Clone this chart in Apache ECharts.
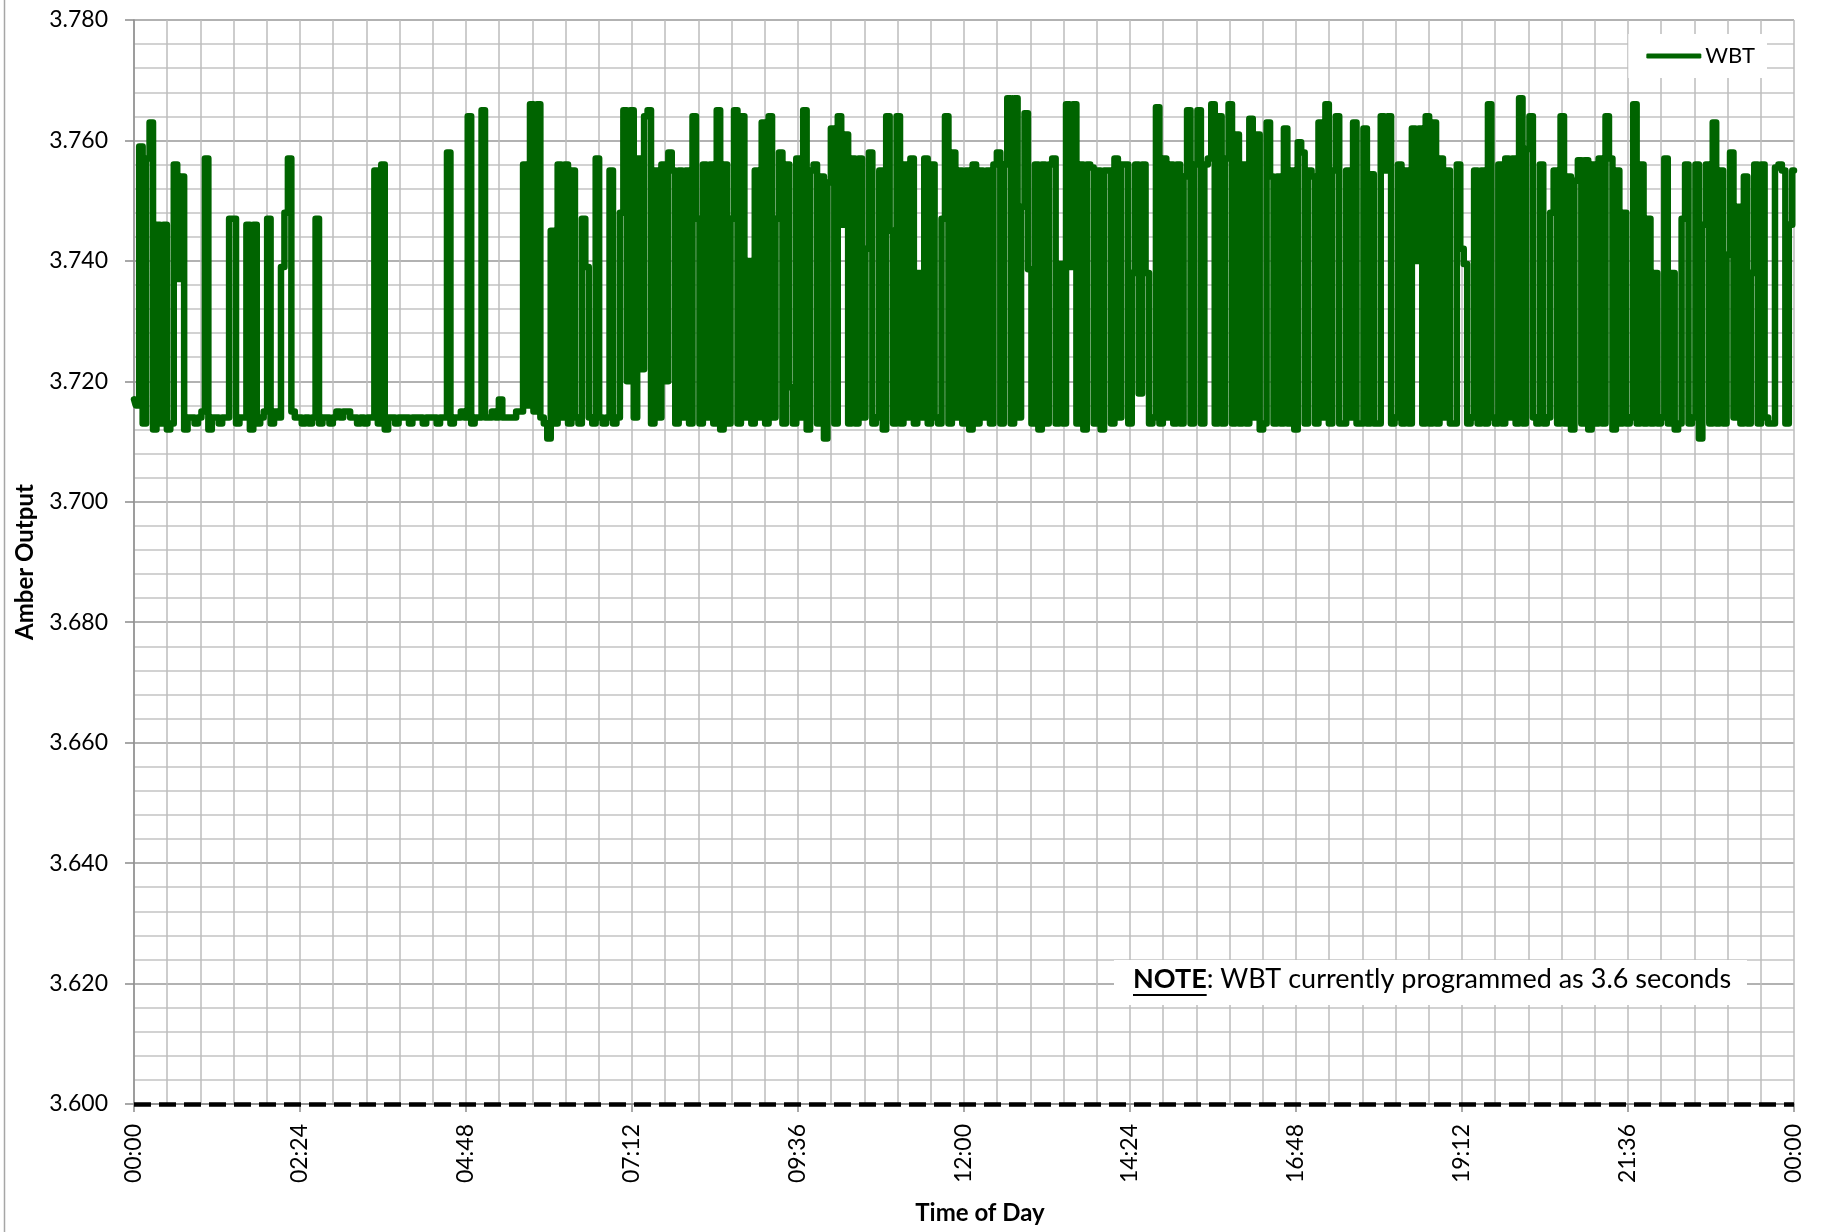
<!DOCTYPE html>
<html>
<head>
<meta charset="utf-8">
<title>WBT - Amber Output</title>
<script src="https://cdn.jsdelivr.net/npm/echarts@6/dist/echarts.min.js"></script>
<style>
    html, body { margin: 0; padding: 0; background: #fff; }
    #chart { width: 1824px; height: 1232px; }
</style>
</head>
<body>
<div id="chart"></div>
<script>
const SAMPLE_STEP_MIN = 3;
const wbtValues = [
    3.717, 3.716, 3.759, 3.713, 3.757, 3.763, 3.712, 3.746, 3.713, 3.746, 3.712, 3.713, 3.756, 3.737, 3.754, 3.712, 3.714, 3.714, 3.713, 3.714,
    3.715, 3.757, 3.712, 3.714, 3.714, 3.713, 3.714, 3.714, 3.747, 3.747, 3.713, 3.714, 3.714, 3.746, 3.712, 3.746, 3.713, 3.714, 3.715, 3.747,
    3.713, 3.715, 3.714, 3.739, 3.748, 3.757, 3.715, 3.714, 3.714, 3.713, 3.714, 3.713, 3.714, 3.747, 3.713, 3.714, 3.714, 3.713, 3.714, 3.715,
    3.714, 3.715, 3.715, 3.714, 3.714, 3.713, 3.714, 3.713, 3.714, 3.714, 3.755, 3.713, 3.756, 3.712, 3.714, 3.714, 3.713, 3.714, 3.714, 3.714,
    3.713, 3.714, 3.714, 3.714, 3.713, 3.714, 3.714, 3.714, 3.713, 3.714, 3.714, 3.758, 3.713, 3.714, 3.714, 3.715, 3.714, 3.764, 3.713, 3.714,
    3.714, 3.765, 3.714, 3.714, 3.715, 3.714, 3.717, 3.714, 3.714, 3.714, 3.714, 3.715, 3.715, 3.756, 3.716, 3.766, 3.715, 3.766, 3.714, 3.713,
    3.7105, 3.745, 3.713, 3.756, 3.714, 3.756, 3.713, 3.755, 3.714, 3.713, 3.747, 3.739, 3.714, 3.713, 3.757, 3.714, 3.713, 3.714, 3.755, 3.713,
    3.714, 3.748, 3.765, 3.720, 3.765, 3.714, 3.757, 3.722, 3.764, 3.765, 3.713, 3.755, 3.714, 3.756, 3.720, 3.758, 3.755, 3.713, 3.755, 3.714,
    3.755, 3.713, 3.764, 3.747, 3.713, 3.756, 3.714, 3.756, 3.713, 3.765, 3.712, 3.756, 3.713, 3.747, 3.765, 3.713, 3.764, 3.714, 3.740, 3.713,
    3.755, 3.714, 3.763, 3.713, 3.764, 3.714, 3.747, 3.758, 3.713, 3.756, 3.719, 3.713, 3.757, 3.714, 3.765, 3.712, 3.755, 3.756, 3.713, 3.754,
    3.7105, 3.753, 3.762, 3.713, 3.764, 3.746, 3.761, 3.713, 3.757, 3.713, 3.757, 3.714, 3.742, 3.758, 3.713, 3.714, 3.755, 3.712, 3.764, 3.745,
    3.713, 3.764, 3.713, 3.756, 3.714, 3.757, 3.713, 3.738, 3.714, 3.757, 3.713, 3.756, 3.714, 3.713, 3.747, 3.764, 3.713, 3.758, 3.714, 3.755,
    3.713, 3.755, 3.712, 3.756, 3.713, 3.755, 3.714, 3.755, 3.713, 3.756, 3.758, 3.713, 3.756, 3.767, 3.713, 3.767, 3.714, 3.749, 3.7645, 3.7386,
    3.713, 3.756, 3.712, 3.756, 3.713, 3.756, 3.757, 3.713, 3.7395, 3.713, 3.766, 3.739, 3.766, 3.713, 3.756, 3.712, 3.756, 3.7555, 3.713, 3.755,
    3.712, 3.755, 3.755, 3.713, 3.757, 3.714, 3.756, 3.756, 3.713, 3.738, 3.756, 3.718, 3.756, 3.738, 3.713, 3.714, 3.7655, 3.713, 3.757, 3.714,
    3.756, 3.713, 3.756, 3.713, 3.754, 3.765, 3.713, 3.756, 3.765, 3.713, 3.756, 3.757, 3.766, 3.713, 3.764, 3.713, 3.757, 3.766, 3.713, 3.761,
    3.713, 3.756, 3.713, 3.7636, 3.714, 3.761, 3.712, 3.713, 3.763, 3.754, 3.713, 3.754, 3.713, 3.762, 3.713, 3.755, 3.712, 3.7597, 3.758, 3.713,
    3.755, 3.754, 3.713, 3.763, 3.714, 3.766, 3.713, 3.755, 3.764, 3.713, 3.713, 3.755, 3.714, 3.763, 3.713, 3.713, 3.762, 3.713, 3.7544, 3.713,
    3.713, 3.764, 3.755, 3.764, 3.713, 3.714, 3.756, 3.713, 3.755, 3.713, 3.762, 3.740, 3.762, 3.713, 3.764, 3.713, 3.763, 3.713, 3.757, 3.714,
    3.755, 3.713, 3.713, 3.756, 3.742, 3.7395, 3.713, 3.714, 3.755, 3.713, 3.755, 3.713, 3.766, 3.714, 3.713, 3.756, 3.713, 3.757, 3.714, 3.757,
    3.713, 3.767, 3.713, 3.7586, 3.764, 3.714, 3.713, 3.756, 3.713, 3.714, 3.748, 3.755, 3.713, 3.764, 3.713, 3.754, 3.712, 3.7533, 3.7567, 3.713,
    3.7567, 3.712, 3.756, 3.713, 3.757, 3.713, 3.764, 3.757, 3.712, 3.755, 3.713, 3.748, 3.713, 3.714, 3.766, 3.713, 3.756, 3.713, 3.747, 3.713,
    3.738, 3.713, 3.714, 3.757, 3.713, 3.738, 3.712, 3.713, 3.747, 3.756, 3.713, 3.714, 3.756, 3.7105, 3.746, 3.756, 3.713, 3.763, 3.713, 3.755,
    3.713, 3.741, 3.758, 3.714, 3.749, 3.713, 3.754, 3.713, 3.738, 3.756, 3.713, 3.756, 3.714, 3.713, 3.713, 3.7555, 3.756, 3.755, 3.713, 3.746, 3.755
];

// Подписи оси X (шаг 2 ч 24 мин = 144 мин)
const X_TICK_STEP = 144;
const X_TICK_LABELS = ['00:00', '02:24', '04:48', '07:12', '09:36', '12:00', '14:24', '16:48', '19:12', '21:36', '00:00'];

// Ось Y
const Y_MIN = 3.6;
const Y_MAX = 3.78;
const Y_STEP = 0.02;

// Запрограммированное значение WBT (пунктир)
const WBT_THRESHOLD = 3.6;

const SERIES_NAME = 'WBT';
const NOTE_LABEL = 'NOTE';
const NOTE_TEXT = ': WBT currently programmed as 3.6 seconds';

const FONT = 'Lato, "Open Sans", sans-serif';
const GREEN = '#006400';
const NOTE_FONT_SIZE = 27;

// Ширина слова NOTE для подчёркивания
function measure(text, font) {
    const ctx = document.createElement('canvas').getContext('2d');
    ctx.font = font;
    return ctx.measureText(text).width;
}

const chart = echarts.init(document.getElementById('chart'));

const wbtData = wbtValues.map((v, i) => [i * SAMPLE_STEP_MIN, v]);
const noteWidth = measure(NOTE_LABEL, 'bold ' + NOTE_FONT_SIZE + 'px Lato');

const option = {
    animation: false,
    backgroundColor: '#fff',
    textStyle: { fontFamily: FONT },
    grid: { left: 134, right: 30, top: 20, bottom: 128 },
    legend: {
        data: [SERIES_NAME],
        right: 57,
        top: 34,
        z: 10,
        backgroundColor: '#fff',
        padding: [11, 12, 11, 18],
        icon: 'roundRect',
        itemWidth: 55,
        itemHeight: 5,
        itemGap: 4,
        textStyle: { fontSize: 22, color: '#000', fontFamily: FONT, padding: [0, 0, 0, -1] }
    },
    xAxis: {
        type: 'value',
        min: 0,
        max: 1440,
        interval: X_TICK_STEP,
        name: 'Time of Day',
        nameLocation: 'middle',
        nameGap: 97,
        nameTextStyle: { fontSize: 24, fontWeight: 'bold', color: '#000', padding: [0, 0, 0, 32] },
        axisLine: { show: true, onZero: false, lineStyle: { color: '#8c8c8c', width: 1.5 } },
        axisTick: { show: true, length: 8, lineStyle: { color: '#8c8c8c', width: 1.5 } },
        axisLabel: {
            rotate: 90,
            margin: 20,
            fontSize: 23,
            color: '#000',
            formatter: v => X_TICK_LABELS[Math.round(v / X_TICK_STEP)] || ''
        },
        splitLine: { show: true, lineStyle: { color: '#bdbdbd', width: 1.5 } },
        minorTick: { show: false, splitNumber: 5 },
        minorSplitLine: { show: true, lineStyle: { color: '#bdbdbd', width: 1.5 } }
    },
    yAxis: {
        type: 'value',
        min: Y_MIN,
        max: Y_MAX,
        interval: Y_STEP,
        name: 'Amber Output',
        nameLocation: 'middle',
        nameRotate: 90,
        nameGap: 97,
        nameTextStyle: { fontSize: 24, fontWeight: 'bold', color: '#000' },
        axisLine: { show: true, lineStyle: { color: '#8c8c8c', width: 1.5 } },
        axisTick: { show: true, length: 9, lineStyle: { color: '#8c8c8c', width: 1.5 } },
        axisLabel: { margin: 26, fontSize: 23, color: '#000', formatter: v => v.toFixed(3) },
        splitLine: { show: true, lineStyle: { color: '#999999', width: 1.5 } },
        minorTick: { show: false, splitNumber: 5 },
        minorSplitLine: { show: true, lineStyle: { color: '#c4c4c4', width: 1.5 } }
    },
    series: [
        {
            name: SERIES_NAME,
            type: 'line',
            data: wbtData,
            symbol: 'none',
            step: 'middle',
            z: 3,
            itemStyle: { color: GREEN },
            lineStyle: { color: GREEN, width: 6.5, cap: 'round', join: 'round' },
            emphasis: { disabled: true },
            markLine: {
                silent: true,
                symbol: 'none',
                label: { show: false },
                emphasis: { disabled: true },
                lineStyle: { color: '#000', width: 4.5, type: [17, 8] },
                data: [{ yAxis: WBT_THRESHOLD }]
            }
        }
    ],
    graphic: [
        // рамка области диаграммы слева
        {
            type: 'line',
            silent: true,
            shape: { x1: 4.5, y1: 0, x2: 4.5, y2: 1232 },
            style: { stroke: '#a6a6a6', lineWidth: 1.5 }
        },
        // примечание поверх сетки
        {
            type: 'group',
            left: 1114,
            top: 960,
            z: 100,
            silent: true,
            children: [
                { type: 'rect', z: 100, shape: { x: 0, y: 0, width: 633, height: 45 }, style: { fill: '#fff' } },
                {
                    type: 'text',
                    z: 101,
                    style: {
                        x: 19,
                        y: 19,
                        verticalAlign: 'middle',
                        text: '{b|' + NOTE_LABEL + '}' + NOTE_TEXT,
                        font: NOTE_FONT_SIZE + 'px Lato',
                        fill: '#000',
                        rich: { b: { fontWeight: 'bold', fontSize: NOTE_FONT_SIZE, fontFamily: 'Lato', fill: '#000' } }
                    }
                },
                {
                    type: 'line',
                    z: 101,
                    shape: { x1: 19, y1: 35, x2: 19 + noteWidth, y2: 35 },
                    style: { stroke: '#000', lineWidth: 2 }
                }
            ]
        }
    ]
};

chart.setOption(option);
</script>
</body>
</html>
